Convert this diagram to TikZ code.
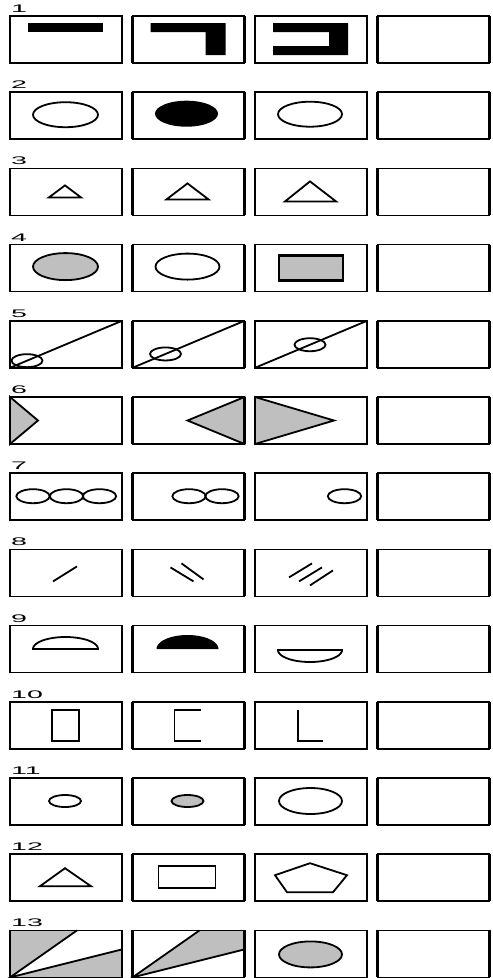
\documentclass[tikz,border=0pt]{standalone}
\usepackage{fontspec}
\setmainfont{Liberation Sans}
\usepackage{graphicx}
\definecolor{tone}{gray}{0.75}
\tikzset{fig/.style={line width=1.8pt},frame/.style={line width=1.5pt},lbl/.style={anchor=base west,inner sep=0pt,font=\fontsize{11}{13}\selectfont},
  incell/.style 2 args={shift={({10+122.5*(#2-1)},{16+76.2*(#1-1)})}}}
\newcommand{\panel}{\draw[frame] (0,0) rectangle (112,47);\draw[line width=2.6pt] (0,0)--(0,47) (112,0)--(112,47);}

\begin{document}
\begin{tikzpicture}[x=1pt,y=-1pt]
\useasboundingbox (0,0) rectangle (493,978);
% 1 : black bars
\begin{scope}[incell={1}{1}]\fill (18,7) rectangle (93,16);\end{scope}
\begin{scope}[incell={1}{2}]\fill (18,7)--(93,7)--(93,39)--(73,39)--(73,16)--(18,16)--cycle;\end{scope}
\begin{scope}[incell={1}{3}]\fill (18,7)--(93,7)--(93,39)--(18,39)--(18,30)--(74,30)--(74,16)--(18,16)--cycle;\end{scope}
% 2 : ellipses
\begin{scope}[incell={2}{1}]\draw[fig] (55.5,22.5) ellipse [x radius=32.5,y radius=12.5];\end{scope}
\begin{scope}[incell={2}{2}]\fill (54,21.5) ellipse [x radius=31.5,y radius=13];\end{scope}
\begin{scope}[incell={2}{3}]\draw[fig] (55,22) ellipse [x radius=32,y radius=12.5];\end{scope}
% 3 : growing triangles
\begin{scope}[incell={3}{1}]\draw[fig] (39,29)--(71,29)--(55,17)--cycle;\end{scope}
\begin{scope}[incell={3}{2}]\draw[fig] (34,31)--(76,31)--(55,15)--cycle;\end{scope}
\begin{scope}[incell={3}{3}]\draw[fig] (30,33)--(81,33)--(55,13)--cycle;\end{scope}
% 4
\begin{scope}[incell={4}{1}]\filldraw[fig,fill=tone] (55.5,22) ellipse [x radius=32.5,y radius=13.5];\end{scope}
\begin{scope}[incell={4}{2}]\draw[fig] (55,22) ellipse [x radius=32,y radius=13];\end{scope}
\begin{scope}[incell={4}{3}]\filldraw[line width=2.4pt,fill=tone] (24,11) rectangle (88,36);\end{scope}
% 5 : ring sliding on the diagonal
\foreach \c/\u in {1/17,2/33,3/55}{
  \begin{scope}[incell={5}{\c}]\draw[fig] (0,47)--(112,0);\draw[fig] (\u,{47-\u*47/112}) ellipse [x radius=15.5,y radius=6.5];\end{scope}}
% 6 : grey triangles
\begin{scope}[incell={6}{1}]\filldraw[fig,fill=tone] (0,0)--(28,23.5)--(0,47)--cycle;\end{scope}
\begin{scope}[incell={6}{2}]\filldraw[fig,fill=tone] (112,0)--(55,23.5)--(112,47)--cycle;\end{scope}
\begin{scope}[incell={6}{3}]\filldraw[fig,fill=tone] (0,0)--(79,23.5)--(0,47)--cycle;\end{scope}
% 7 : rings leaving
\foreach \c/\list in {1/{23,56.5,89.5},2/{56.5,89.5},3/{89.5}}{
  \begin{scope}[incell={7}{\c}]\foreach \u in \list {\draw[fig] (\u,23) ellipse [x radius=16.7,y radius=7];}\end{scope}}
% 8 : strokes
\begin{scope}[incell={8}{1}]\draw[fig] (43,32)--(67,17);\end{scope}
\begin{scope}[incell={8}{2}]\draw[fig] (38,18)--(61,32) (49,14)--(71,30);\end{scope}
\begin{scope}[incell={8}{3}]\draw[fig] (34,28)--(57,14) (44,32)--(67,18) (55,36)--(78,21);\end{scope}
% 9 : half ellipses
\begin{scope}[incell={9}{1}]\draw[fig] plot[domain=0:180,samples=40] ({55.5+32.5*cos(\x)},{23.4-12*sin(\x)})--cycle;\end{scope}
\begin{scope}[incell={9}{2}]\fill plot[domain=0:180,samples=40] ({55+31*cos(\x)},{23.4-14*sin(\x)})--cycle;\end{scope}
\begin{scope}[incell={9}{3}]\draw[fig] plot[domain=0:180,samples=40] ({55+32*cos(\x)},{24.4+12*sin(\x)})--cycle;\end{scope}
% 10 : losing sides
\begin{scope}[incell={10}{1}]\draw[fig] (42,8) rectangle (69,39);\end{scope}
\begin{scope}[incell={10}{2}]\draw[fig] (68,8)--(42,8)--(42,39)--(68,39);\end{scope}
\begin{scope}[incell={10}{3}]\draw[fig] (43,8)--(43,39)--(68,39);\end{scope}
% 11
\begin{scope}[incell={11}{1}]\draw[fig] (55,23) ellipse [x radius=16,y radius=6];\end{scope}
\begin{scope}[incell={11}{2}]\filldraw[fig,fill=tone] (55,23) ellipse [x radius=16,y radius=6];\end{scope}
\begin{scope}[incell={11}{3}]\draw[fig] (55.5,23) ellipse [x radius=31.5,y radius=13];\end{scope}
% 12 : polygons
\begin{scope}[incell={12}{1}]\draw[fig] (30,32)--(81,32)--(55,14)--cycle;\end{scope}
\begin{scope}[incell={12}{2}]\draw[fig] (26,12) rectangle (83,34);\end{scope}
\begin{scope}[incell={12}{3}]\draw[fig] (55,9)--(92,21)--(78,38)--(32,38)--(20,21)--cycle;\end{scope}
% 13 : wedges
\begin{scope}[incell={13}{1}]\fill[tone] (0,0)--(67,0)--(0,47)--cycle (0,47)--(112,19)--(112,47)--cycle;\draw[fig] (67,0)--(0,47)--(112,19);\end{scope}
\begin{scope}[incell={13}{2}]\fill[tone] (0,47)--(67,0)--(112,0)--(112,19)--cycle;\draw[fig] (67,0)--(0,47)--(112,19);\end{scope}
\begin{scope}[incell={13}{3}]\filldraw[fig,fill=tone] (55.5,24) ellipse [x radius=31.5,y radius=13];\end{scope}
% frames and numbers
\foreach \r in {1,...,13}{
  \node[lbl] (n\r) at (11,{16+76.2*(\r-1)-3.5}) {\scalebox{2.6}[1]{\r}};
  \foreach \c in {1,...,4}{\begin{scope}[incell={\r}{\c}]\panel\end{scope}}}
\end{tikzpicture}
\end{document}
